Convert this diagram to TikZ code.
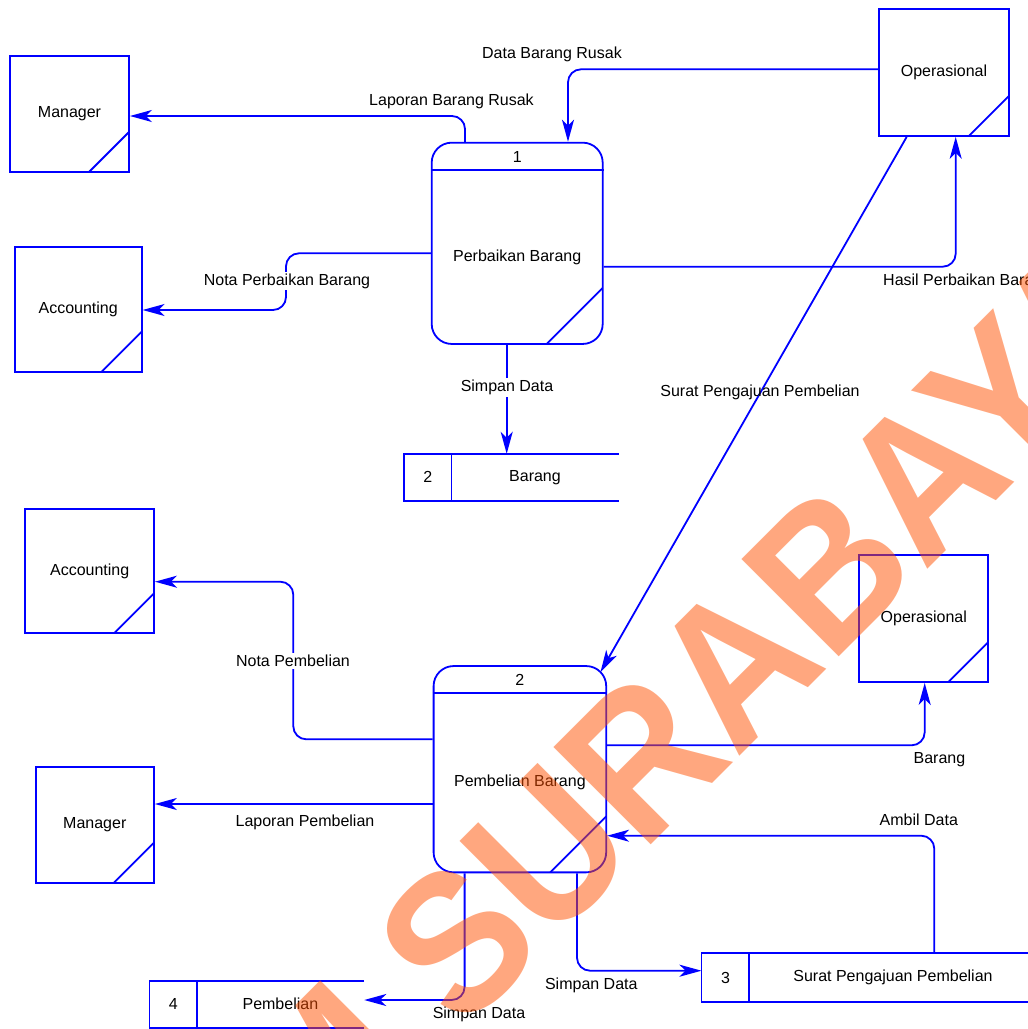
\documentclass[tikz,border=0pt]{standalone}
\usepackage{fontspec}
\setmainfont{Liberation Sans}
\usetikzlibrary{arrows.meta,calc}
\definecolor{dfd}{RGB}{0,0,255}
\definecolor{wm}{RGB}{255,80,0}
\begin{document}
\begin{tikzpicture}[x=1pt,y=-1pt,
  every node/.style={font=\fontsize{16}{19}\selectfont, text=black, inner sep=0pt},
  edge/.style={draw=dfd, line width=1.8pt},
  entity/.style={draw=dfd, line width=1.8pt, rectangle,
    path picture={\draw[dfd, line width=1.8pt]
      ([xshift=-40pt]path picture bounding box.south east) --
      ([yshift=40pt]path picture bounding box.south east);}},
  proc/.style={draw=dfd, line width=1.8pt, rectangle, rounded corners=20pt,
    path picture={\draw[dfd, line width=1.8pt, sharp corners]
      ([xshift=-56pt]path picture bounding box.south east) --
      ([yshift=56pt]path picture bounding box.south east);}},
  flow/.style={draw=dfd, line width=1.8pt, rounded corners=13pt,
    -{Stealth[length=22pt,width=12pt,inset=6pt,sharp]}},
  lbl/.style={fill=white, inner sep=2pt},
  wmark/.style={font=\fontsize{200}{200}\selectfont\bfseries, text=wm, text opacity=0.5,
    rotate=45, xscale=0.918, inner sep=0pt}]
\useasboundingbox (0,0) rectangle (1028,1029);
\clip (0,0) rectangle (1028,1029);

% external entities
\node[entity, minimum width=119pt, minimum height=116pt] (mgr1) at (69.5,114) {Manager};
\node[entity, minimum width=127pt, minimum height=125pt] (acc1) at (78.2,309.2) {Accounting};
\node[entity, minimum width=130pt, minimum height=127.3pt] (op1) at (944,72.3) {Operasional};
\node[entity, minimum width=128.7pt, minimum height=124.3pt] (acc2) at (89.7,571.2) {Accounting};
\node[entity, minimum width=118.3pt, minimum height=116pt] (mgr2) at (94.8,824.7) {Manager};
\node[entity, minimum width=129pt, minimum height=126.7pt] (op2) at (923.8,618.7) {Operasional};

% processes
\node[proc, minimum width=171pt, minimum height=201.3pt] (p1) at (517.2,243.3) {};
\draw[edge] (p1.west |- 0,170) -- (p1.east |- 0,170);
\node (p1num) at (517.2,156.5) {1};
\node (p1txt) at (517.2,257) {Perbaikan Barang};

\node[proc, minimum width=172.6pt, minimum height=206.3pt] (p2) at (519.9,769.2) {};
\draw[edge] (p2.west |- 0,692.7) -- (p2.east |- 0,692.7);
\node (p2num) at (519.9,680) {2};
\node (p2txt) at (519.9,782.7) {Pembelian Barang};

% data stores (open on the right)
\node[minimum width=214.3pt, minimum height=46.7pt] (s2) at (511.2,477.35) {};
\draw[edge] (s2.north east) -- (s2.north west) -- (s2.south west) -- (s2.south east);
\draw[edge] ([xshift=47.7pt]s2.north west) -- ([xshift=47.7pt]s2.south west);
\node (s2num) at (427.9,477.35) {2};
\node (s2txt) at (535,477.35) {Barang};

\node[minimum width=338.3pt, minimum height=48.4pt] (s3) at (870.85,977.5) {};
\draw[edge] (s3.north east) -- (s3.north west) -- (s3.south west) -- (s3.south east);
\draw[edge] ([xshift=47.6pt]s3.north west) -- ([xshift=47.6pt]s3.south west);
\node (s3num) at (725.5,977.5) {3};
\node (s3txt) at (893,977.5) {Surat Pengajuan Pembelian};

\node[minimum width=214.4pt, minimum height=46.5pt] (s4) at (256.8,1004.25) {};
\draw[edge] (s4.north east) -- (s4.north west) -- (s4.south west) -- (s4.south east);
\draw[edge] ([xshift=47.2pt]s4.north west) -- ([xshift=47.2pt]s4.south west);
\node (s4num) at (173.2,1004.25) {4};
\node (s4txt) at (280.4,1004.25) {Pembelian};

% data flows
\coordinate (p2tip) at (600.5,672);
\draw[flow] (p1.north -| 465,0) |- (mgr1.east |- 0,116);
\draw[flow] (op1.west |- 0,69.3) -| (p1.north -| 568,0);
\draw[flow] (p1.east |- 0,266.7) -| (op1.south -| 955.7,0);
\draw[flow] (p1.west |- 0,253.3) -- (286,253.3) |- (acc1.east |- 0,310);
\draw[flow] (p1.south -| 506.7,0) -- (s2.north -| 506.7,0);
\draw[flow] (op1.south -| 906.7,0) -- (p2tip);
\draw[flow] (p2.west |- 0,739.3) -- (293.3,739.3) |- (acc2.east |- 0,581.7);
\draw[flow] (p2.west |- 0,804) -- (mgr2.east |- 0,804);
\draw[flow] (p2.east |- 0,745.3) -| (op2.south -| 924.7,0);
\draw[flow] (s3.north -| 934.3,0) |- (p2.east |- 0,835.7);
\draw[flow] (p2.south -| 577,0) |- (s3.west |- 0,970.7);
\draw[flow] (p2.south -| 464.6,0) |- (s4.east |- 0,1000);

% flow labels
\node (l1) at (451.5,101) {Laporan Barang Rusak};
\node (l2) at (552,54) {Data Barang Rusak};
\node[anchor=west] (l3) at (883,281.7) {Hasil Perbaikan Barang};
\node[lbl] (l4) at (287,281) {Nota Perbaikan Barang};
\node[lbl] (l5) at (507,387.7) {Simpan Data};
\node (l6) at (760,392) {Surat Pengajuan Pembelian};
\node[lbl] (l7) at (293,661) {Nota Pembelian};
\node (l8) at (305,822.3) {Laporan Pembelian};
\node (l9) at (939.4,759.3) {Barang};
\node (l10) at (918.8,820) {Ambil Data};
\node (l11) at (591.3,985) {Simpan Data};
\node (l12) at (479,1014) {Simpan Data};

% watermark
\node[wmark, anchor=base west] (wm1) at (462.5,1033.7) {SURABAYA};
\node[wmark, anchor=base east] (wm2) at (426.5,1069.7) {STIKOM};
\end{tikzpicture}
\end{document}
